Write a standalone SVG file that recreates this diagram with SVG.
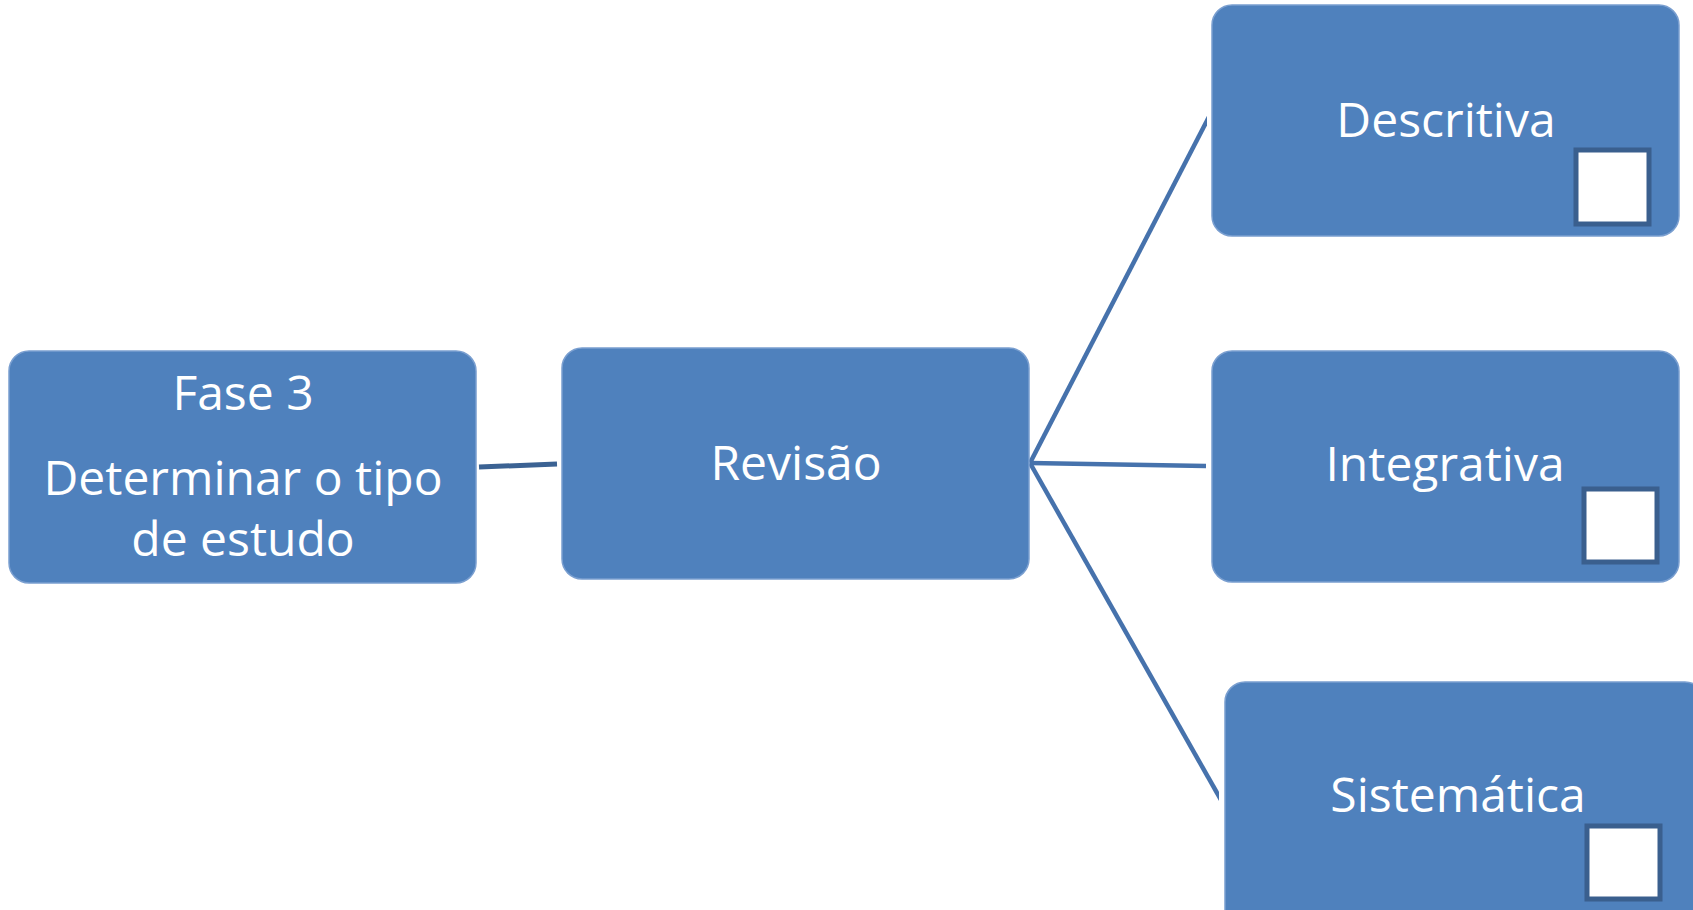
<svg xmlns="http://www.w3.org/2000/svg" width="1693" height="910" viewBox="0 0 1693 910">
<style>
.box{fill:#4f81bd;stroke:#7a9fd0;stroke-width:1.5}
.sq{fill:#ffffff;stroke:#3a5f8e;stroke-width:5}
.t{font-family:"Open Sans","Noto Sans",sans-serif;font-size:48px;fill:#ffffff;text-anchor:middle}
.c{fill:none;stroke:#4672ac;stroke-width:4.5}
</style>
<defs>
<clipPath id="clipFan"><rect x="1029" y="0" width="178" height="910"/></clipPath>
<clipPath id="clipFanB"><rect x="1029" y="0" width="190" height="910"/></clipPath>
</defs>
<rect width="1693" height="910" fill="#ffffff"/>
<g id="connectors">
<line x1="479" y1="467" x2="557" y2="464" stroke="#3b6293" stroke-width="5"/>
<line class="c" x1="1030" y1="463" x2="1212" y2="111" clip-path="url(#clipFan)"/>
<line class="c" x1="1030" y1="463" x2="1206" y2="466"/>
<line class="c" x1="1030" y1="463" x2="1225" y2="807" clip-path="url(#clipFanB)"/>
</g>
<g id="fase3">
<rect class="box" x="9" y="351" width="467" height="232" rx="20"/>
<text class="t" x="243" y="410">Fase 3</text>
<text class="t" x="243" y="495">Determinar o tipo</text>
<text class="t" x="243" y="556">de estudo</text>
</g>
<g id="revisao">
<rect class="box" x="562" y="348" width="467" height="231" rx="20"/>
<text class="t" x="796" y="480">Revisão</text>
</g>
<g id="descritiva">
<rect class="box" x="1212" y="5" width="467" height="231" rx="20"/>
<text class="t" x="1446" y="137">Descritiva</text>
<rect class="sq" x="1576" y="150" width="73" height="74"/>
</g>
<g id="integrativa">
<rect class="box" x="1212" y="351" width="467" height="231" rx="20"/>
<text class="t" x="1445" y="481">Integrativa</text>
<rect class="sq" x="1584" y="489" width="73" height="73"/>
</g>
<g id="sistematica">
<rect class="box" x="1225" y="682" width="480" height="250" rx="20"/>
<text class="t" x="1458" y="812">Sistemática</text>
<rect class="sq" x="1587" y="826" width="73" height="73"/>
</g>
</svg>
